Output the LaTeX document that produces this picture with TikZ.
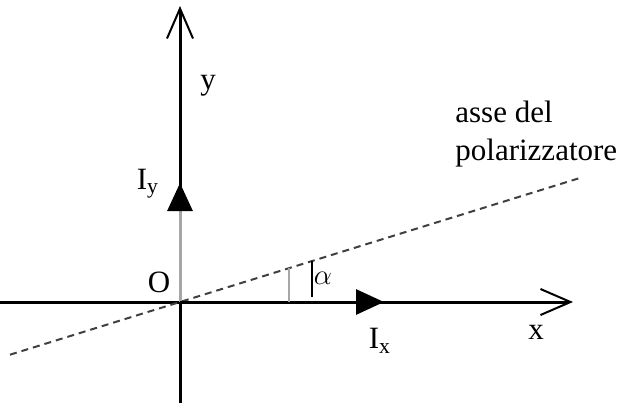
\documentclass[tikz,border=0pt]{standalone}
\usepackage{fontspec}
\setmainfont{Liberation Serif}
\usetikzlibrary{arrows.meta}
\tikzset{
axisline/.style={line width=1.5pt,-{Straight Barb[length=15pt,width=13pt,line width=1pt]}},
vecline/.style={line width=1.5pt,-{Triangle[length=14pt,width=12.5pt,color=black]}},
polaxis/.style={line width=1pt,black!75,dash pattern=on 3.5pt off 2.5pt},
anglemark/.style={line width=1pt},
lab/.style={font=\fontsize{15.5}{19}\selectfont,inner sep=0pt}
}
\begin{document}
\begin{tikzpicture}[x=0.5pt,y=-0.5pt]
\useasboundingbox (0,0) rectangle (617,403);
% axes
\coordinate (O) at (180,302);
\coordinate (xl) at (0,302);
\coordinate (xr) at (573,302);
\coordinate (yb) at (180,403);
\coordinate (yt) at (180,6);
\draw[axisline] (xl) -- (xr);
\draw[axisline] (yb) -- (yt);
% polarizer axis
\coordinate (pl) at (10,354.7);
\coordinate (pr) at (583,177);
\draw[polaxis] (pl) -- (pr);
% components
\coordinate (Iyt) at (180,183);
\coordinate (Ixt) at (384,302);
\draw[vecline,gray!70] (O) -- (Iyt);
\draw[vecline] (O) -- (Ixt);
% angle
\coordinate (a1) at (289,268.2);
\coordinate (a2) at (289,302);
\coordinate (b1) at (312,261);
\coordinate (b2) at (312,297);
\draw[anglemark,gray!70] (a1) -- (a2);
\draw[anglemark] (b1) -- (b2);
% labels
\node[lab] (ylab) at (208,86) {y};
\node[lab] (xlab) at (536,332) {x};
\node[lab] (olab) at (159,282) {O};
\node[lab] (iylab) at (148,184) {I\textsubscript{y}};
\node[lab] (ixlab) at (380,341) {I\textsubscript{x}};
\node[lab] (alab) at (323,278) {$\alpha$};
\node[lab,anchor=north west,align=left] (plab) at (455,101) {asse del\\polarizzatore};
\end{tikzpicture}
\end{document}
